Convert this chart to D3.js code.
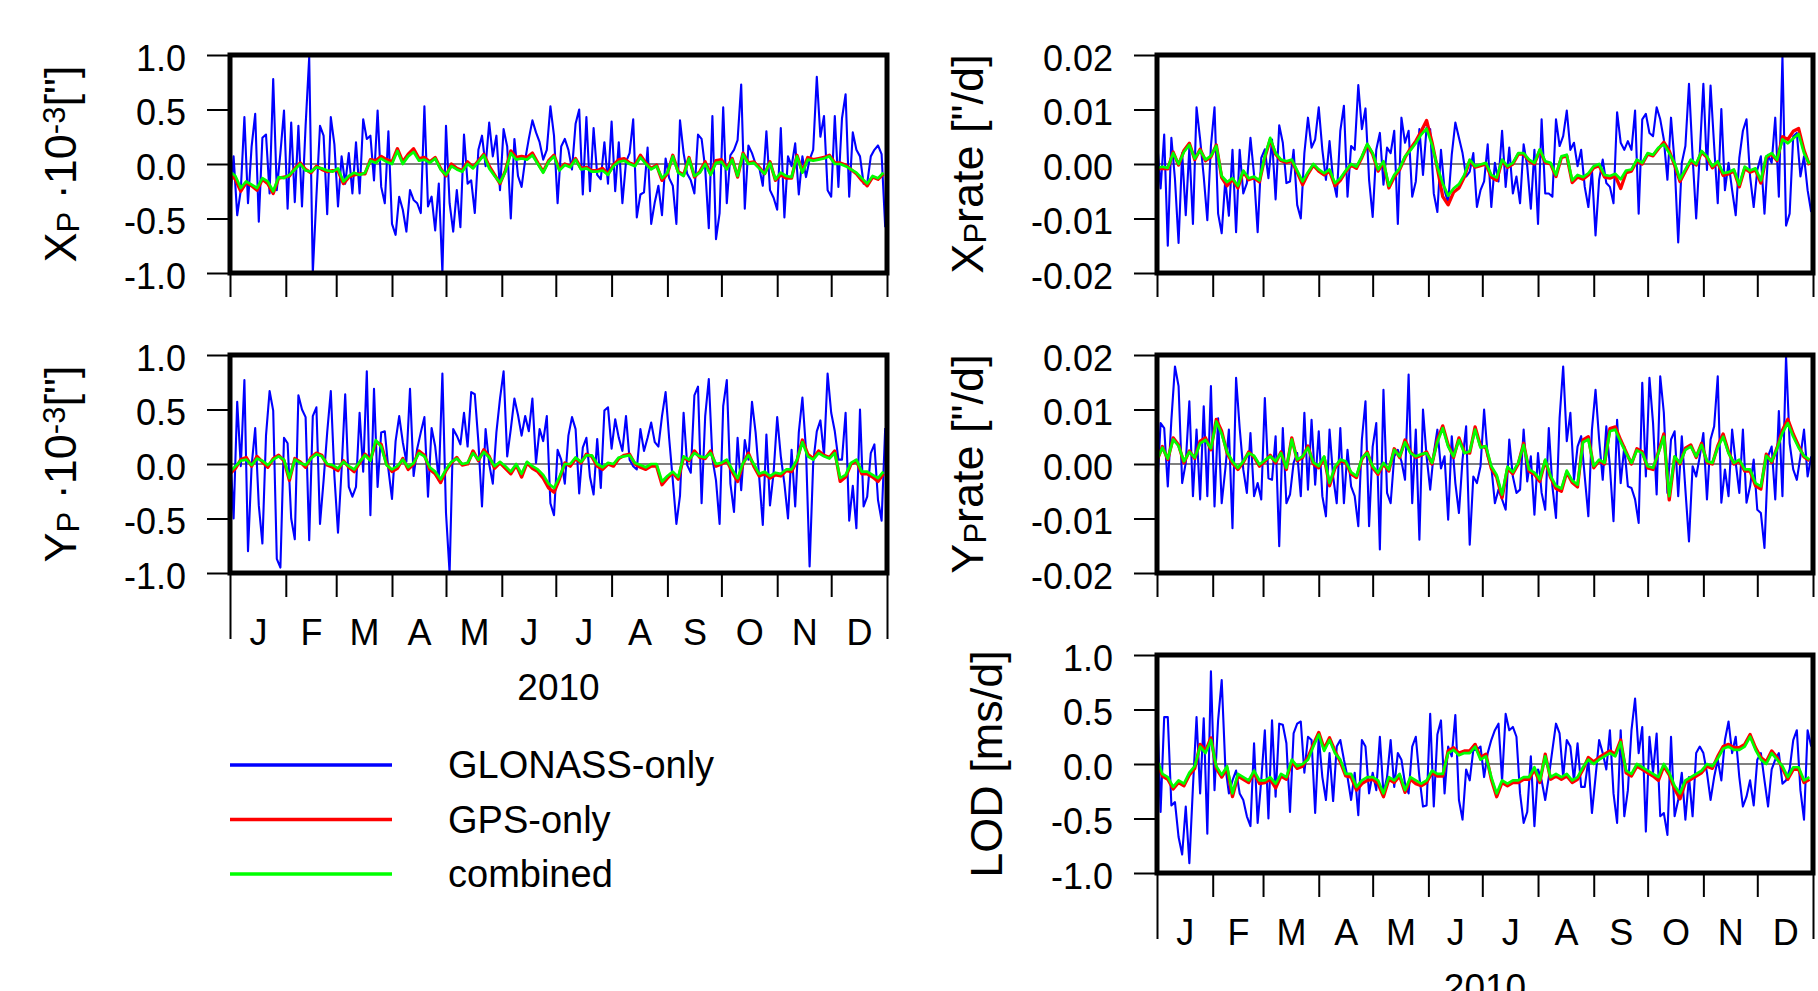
<!DOCTYPE html>
<html>
<head>
<meta charset="utf-8">
<script src="https://cdn.jsdelivr.net/npm/d3@7"></script>
<style>
  body { margin: 0; background: #fff; }
  svg { display: block; font-family: "Liberation Sans", Arial, Helvetica, sans-serif; }
  text { white-space: pre; }
</style>
</head>
<body>
<script>
// labels
const monthLabels = ["J", "F", "M", "A", "M", "J", "J", "A", "S", "O", "N", "D"];
const yearLabel = "2010";
const seriesNames = ["GLONASS-only", "GPS-only", "combined"];
const posTicks = [-100, -50, 0, 50, 100];            // units of 0.01 (x 1e-3 ")
const posTickLabels = ["-1.0", "-0.5", "0.0", "0.5", "1.0"];
const rateTicks = [-200, -100, 0, 100, 200];         // units of 0.0001 "/d
const rateTickLabels = ["-0.02", "-0.01", "0.00", "0.01", "0.02"];
const lodTicks = [-100, -50, 0, 50, 100];            // units of 0.01 ms/d
const lodTickLabels = ["-1.0", "-0.5", "0.0", "0.5", "1.0"];

// sampling in days: GLONASS-only every 2nd day, GPS-only / combined every 3rd day
const glonassStep = 2;
const gpsStep = 3;

// ---- X pole (0.01 e-3 ") ----
const xpGlonass = [
  -36,7,-47,-24,43,-36,16,46,-53,24,27,-27,78,-24,10,49,-41,38,-35,35,
  -39,35,98,-100,-30,35,26,-46,43,18,-39,7,-18,10,-27,20,-27,41,23,26,
  -15,49,-21,-36,30,-55,-65,-30,-42,-62,-24,-33,-36,-45,53,-39,-30,-61,-18,-100,
  35,-36,-62,-24,-58,27,-18,-15,-45,13,26,-2,38,7,26,-24,32,16,-50,23,
  -11,-21,4,23,40,29,20,4,13,53,26,-36,16,
  23,13,-5,37,50,-28,43,-25,33,-10,-14,20,-18,39,-25,20,-36,2,10,41,
  -49,-28,-26,15,-55,-35,-20,-47,5,-13,-20,-55,40,10,-9,-15,-27,27,23,-4,
  -59,44,-69,-45,52,-36,8,13,22,73,-41,17,10,0,-3,-20,30,-24,-31,-42,
  33,-49,7,-2,19,-28,7,-12,4,13,80,25,44,-24,-30,44,-21,42,64,-30,
  29,13,7,-18,-18,7,13,17,9,-58
];
const xpGps = [
  -9,-14,-25,-17,-20,-24,-14,-18,-27,-13,-12,-11,-4,1,-5,-8,-2,-5,-7,-6,
  -6,-18,-12,-10,-9,-9,4,3,7,4,2,14,2,9,14,5,6,2,6,-4,
  -11,0,-4,-6,2,-3,3,9,-2,-10,-18,-6,12,6,7,6,10,1,-7,3,
  8,-5,0,-2,5,-4,-3,-6,-6,-4,-9,-1,4,5,1,-1,8,1,-4,-1,
  -15,-9,8,-7,-10,6,-12,-7,2,-9,3,4,-4,5,-12,10,1,2,-3,-9,
  2,-15,-10,-13,-13,8,-7,6,4,5,6,8,1,1,-1,-5,-9,-15,-20,-12,
  -14,-9
];
const xpComb = [
  -7,-11,-22,-16,-19,-22,-13,-16,-25,-12,-13,-10,-5,0,-6,-7,-3,-4,-6,-7,
  -4,-16,-11,-8,-10,-8,3,1,5,2,0,12,0,7,11,3,4,1,5,-5,
  -10,-2,-5,-7,0,-4,2,8,-4,-11,-17,-7,10,4,5,4,8,0,-8,2,
  7,-6,-1,-3,4,-5,-4,-7,-7,-6,-10,-2,2,3,0,-2,6,0,-5,-2,
  -13,-8,7,-8,-11,5,-11,-8,0,-10,1,2,-5,4,-11,9,0,1,-4,-9,
  1,-14,-8,-11,-12,7,-8,4,3,4,5,7,0,0,-2,-5,-8,-13,-18,-11,
  -13,-8
];

// ---- X pole rate (0.0001 "/d) ----
const xrGlonass = [
  45,-45,54,-150,48,-28,-145,20,-94,30,-110,104,45,-23,-103,33,104,-91,-127,-29,
  -95,26,-125,26,-54,-35,48,-20,-125,11,27,-26,45,-65,71,39,-35,-32,26,-75,
  -100,20,85,30,45,104,26,-29,42,-29,-60,61,107,-60,33,26,145,64,102,-29,
  -97,26,57,-38,30,20,61,-110,85,39,61,-60,-32,64,-20,67,64,-54,-88,26,
  -48,-72,17,76,48,20,-23,-14,20,-79,-48,-32,36,
  -79,2,-32,61,-42,30,-54,-23,-72,36,-4,-82,26,-110,82,-54,-54,-60,82,33,
  51,98,26,39,-4,26,-42,-79,-11,-131,-29,8,-35,-42,-72,95,39,26,42,26,
  98,-91,82,92,57,51,104,82,45,-29,85,2,-144,2,33,147,14,-100,20,147,
  -11,144,33,-72,101,-48,2,-48,-94,11,61,82,-23,-79,-11,14,-91,17,2,85,
  -60,197,-113,-91,51,57,-23,14,-48,-88
];
const xrGps = [
  -9,-8,-9,22,-2,25,38,8,27,6,13,35,-25,-40,-28,-44,-14,-29,-25,-33,
  12,45,18,6,3,6,-15,-38,-18,-2,-13,-20,-13,-40,-30,-14,-2,-8,12,35,
  18,-13,3,-44,-24,-10,12,28,42,60,80,40,-8,-60,-75,-52,-44,-24,6,-6,
  -3,0,-24,-30,6,-6,0,18,18,6,0,25,3,0,-23,12,15,-34,-24,-28,
  -20,-7,-3,-24,-26,-22,-45,-16,-13,6,0,18,15,28,40,24,-2,-32,-13,6,
  -2,22,12,-7,3,-21,-18,-13,-42,-8,-15,-11,-35,12,18,6,50,45,60,65,
  25,-2
];
const xrComb = [
  -7,-5,-7,20,0,22,35,10,25,8,15,33,-22,-33,-26,-40,-12,-26,-23,-30,
  14,48,20,8,5,8,-12,-32,-15,0,-10,-17,-10,-35,-26,-12,0,-5,14,37,
  20,-10,5,-40,-20,-8,14,25,38,54,65,35,-5,-36,-58,-45,-37,-20,8,-4,
  -1,2,-20,-25,8,-4,2,20,20,8,2,27,5,2,-20,14,17,-30,-20,-24,
  -17,-4,0,-20,-22,-18,-28,-12,-10,8,2,20,17,30,36,20,2,-28,-10,8,
  0,24,14,-4,5,-17,-15,-10,-38,-5,-12,-8,-30,14,20,8,45,38,47,55,
  20,0
];

// ---- Y pole (0.01 e-3 ") ----
const ypGlonass = [
  16,-50,57,-2,77,-80,-2,33,-38,-73,26,67,49,-87,-95,24,19,-50,-69,63,
  50,43,-70,44,52,-55,-15,29,67,-11,-63,-5,64,-21,-30,-21,47,-7,85,-47,
  69,-21,29,30,-5,-32,21,44,20,2,69,-11,14,29,43,-30,33,16,-15,83,
  -45,-100,32,26,18,47,16,66,64,20,-39,32,0,-18,29,60,85,7,32,60,
  45,26,44,30,60,1,32,21,44,-36,-47,13,4,
  -18,26,43,32,-27,15,24,-12,-28,23,-22,49,52,14,41,24,12,44,4,-2,
  -5,32,12,24,38,20,16,44,66,23,-15,-55,-29,47,-1,-8,63,71,-36,44,
  78,5,-15,-55,53,77,-18,-44,24,-24,22,4,57,29,-12,-56,27,-38,-8,43,
  7,-18,-50,13,-39,29,61,13,-94,1,30,40,8,83,47,30,4,4,47,-52,
  -20,-59,50,-39,-30,10,18,-33,-52,33
];
const ypGps = [
  -9,-4,4,6,-2,7,2,-3,5,8,3,-15,5,2,-3,6,10,8,-1,-3,
  -6,3,-3,-7,1,9,4,20,18,0,-7,-4,5,-5,0,12,8,-5,-9,-17,
  -6,1,6,-1,0,12,3,13,7,-4,1,-4,-9,-1,-12,1,-4,-7,-13,-22,
  -26,-14,1,-2,5,1,9,7,-2,-5,0,-2,5,8,9,0,-3,-5,-2,-2,
  -19,-13,-8,-14,6,3,12,6,5,12,-2,0,3,-7,-16,0,10,-2,-11,-9,
  -13,-10,-11,-6,-7,3,22,9,5,12,8,6,12,-16,-12,0,3,-9,-9,-12,
  -16,-9
];
const ypComb = [
  -7,-2,3,4,-1,5,3,-1,4,7,4,-13,4,1,-1,5,9,7,0,-1,
  -4,2,-2,-5,2,8,3,22,16,-1,-5,-2,4,-3,1,10,7,-3,-7,-14,
  -5,2,5,0,1,10,4,11,6,-2,2,-2,-7,0,-9,2,-2,-5,-10,-18,
  -22,-12,0,0,6,2,8,8,0,-3,1,0,6,7,8,1,-1,-3,0,0,
  -16,-11,-7,-12,7,4,10,7,6,10,0,1,4,-5,-13,1,8,0,-9,-7,
  -11,-8,-9,-5,-5,4,20,7,4,10,7,5,10,-13,-10,1,4,-7,-7,-10,
  -13,-7
];

// ---- Y pole rate (0.0001 "/d) ----
const yrGlonass = [
  -53,75,66,-41,81,179,143,-35,2,115,-59,63,-65,106,-59,143,-78,84,-72,-10,
  63,-118,158,66,-10,-53,57,-59,-35,-65,121,-26,-29,51,-151,66,-72,-56,2,20,
  -59,94,-47,81,-38,60,-59,-96,63,-23,-72,66,-72,26,-41,-59,-114,45,115,-114,
  32,75,-157,136,-53,-72,14,26,5,-29,164,-72,63,-139,100,14,-47,20,63,-8,
  14,-102,51,-35,-90,8,69,-148,-23,-35,-4,100,14,-4,-72,-47,-65,-84,45,-23,
  -53,-47,63,-32,14,-93,20,-53,-84,66,-41,-99,84,179,42,94,-29,32,51,-23,
  -96,63,136,45,-29,69,-5,-105,81,-35,32,-41,-44,-65,-108,149,-23,158,75,-56,
  161,94,-53,45,60,-59,51,-47,-142,-4,-23,14,57,-65,45,69,161,-71,-10,-59,
  63,2,-53,63,-71,-41,8,-84,-90,-154,14,32,-65,97,-59,198,38,-10,-29,14,
  63,-23,14
];
const yrGps = [
  6,32,8,48,35,2,24,10,42,48,26,82,60,20,2,-10,3,22,13,-4,
  5,16,2,22,-10,48,6,12,33,0,-7,12,-40,-8,6,3,-18,-25,9,22,
  -7,-19,0,-13,28,12,44,22,12,16,22,0,44,70,35,12,48,22,20,68,
  33,30,-8,-24,-62,-8,-18,0,38,-13,-19,-32,6,-25,-45,-50,-15,-34,-42,44,
  50,-7,6,0,65,68,44,22,0,28,22,-7,-10,22,55,-66,12,0,29,35,
  12,38,3,0,33,55,22,0,6,-13,-13,-40,-46,18,3,30,62,82,55,33,
  13,6
];
const yrComb = [
  8,30,10,45,33,5,22,12,38,44,29,78,55,22,5,-7,5,20,15,-1,
  7,14,5,20,-7,45,8,14,30,3,-4,14,-35,-5,8,5,-15,-22,11,20,
  -4,-16,2,-10,26,14,40,20,14,18,20,2,40,66,32,14,44,20,23,63,
  30,33,-4,-20,-56,-5,-15,2,35,-10,-16,-28,8,-22,-40,-45,-12,-30,-38,40,
  45,-4,8,2,60,63,40,20,2,25,20,-4,-7,20,50,-59,14,2,26,32,
  14,35,5,2,30,50,20,2,8,-10,-10,-35,-41,15,5,28,57,75,50,30,
  15,8
];

// ---- LOD (0.01 ms/d) ----
const lodGlonass = [
  57,-44,43,43,-38,-35,-67,-83,-39,-91,-21,43,-27,42,-64,85,-24,40,77,-2,
  -27,-15,-6,-27,-33,-48,-57,19,-54,-15,31,-50,40,-30,37,36,19,-44,28,37,
  39,-8,25,22,-45,25,-12,-33,10,-34,16,22,4,-12,-33,-8,-47,22,16,-27,
  -8,-24,25,-27,-12,22,-21,10,4,-18,-27,16,25,-12,-39,-38,46,-39,27,40,
  -27,16,7,45,-33,-51,-5,-15,13,13,16,-12,10,22,31,37,-15,46,31,34,
  25,-27,-54,-44,7,-57,-5,-15,-33,-12,13,37,28,-12,22,16,-15,19,-21,-21,
  4,-45,-12,22,10,-5,31,-27,-54,31,-48,-24,31,60,10,34,-62,25,-8,28,
  -48,-45,-65,25,-48,-33,-8,-51,-12,-48,10,16,10,-8,-33,-12,4,-15,22,39,
  10,25,-12,-39,-30,-15,-38,4,10,-15,-39,-5,4,10,-18,-15,-5,22,31,-24,
  -51,31,16
];
const lodGps = [
  2,-11,-14,-23,-17,-20,-10,-4,18,12,24,-4,-12,-4,-30,-11,-14,-17,-8,-18,
  -17,-14,-22,-11,-14,2,-4,-2,6,18,29,14,24,12,2,-11,-12,-24,-18,-15,
  -14,-18,-30,-14,-17,-11,-26,-14,-18,-20,-17,-8,-11,-11,12,15,10,12,12,18,
  6,9,-14,-30,-17,-20,-17,-17,-14,-14,-5,-17,9,-14,-11,-14,-11,-17,-14,-5,
  6,2,6,9,12,9,22,-8,-11,-2,-5,-8,-11,-15,-2,-10,-23,-32,-17,-14,
  -11,-8,-2,-4,7,16,18,15,15,18,27,15,6,2,12,6,-4,-14,-5,-5,
  -17,-14
];
const lodComb = [
  4,-9,-12,-21,-15,-18,-8,-2,16,10,22,-2,-10,-2,-27,-9,-12,-15,-6,-15,
  -15,-12,-18,-9,-12,4,-2,0,4,16,27,12,22,10,4,-9,-9,-21,-15,-12,
  -12,-15,-27,-12,-15,-9,-24,-12,-15,-18,-15,-6,-9,-9,10,13,8,10,10,16,
  4,7,-12,-27,-15,-18,-15,-15,-12,-12,-3,-15,7,-12,-9,-12,-9,-15,-12,-3,
  4,0,4,7,10,7,20,-6,-9,0,-3,-6,-9,-12,0,-8,-20,-27,-15,-12,
  -9,-6,0,-2,5,14,16,13,13,16,25,13,4,0,10,4,-2,-12,-3,-3,
  -15,-12
];

// axis titles: [text, "sub" | "sup" | undefined]
const xpTitle = [["X"], ["P", "sub"], [" \u00b710"], ["-3", "sup"], ["[\"]"]];
const ypTitle = [["Y"], ["P", "sub"], [" \u00b710"], ["-3", "sup"], ["[\"]"]];
const xrTitle = [["X"], ["P", "sub"], ["rate [\"/d]"]];
const yrTitle = [["Y"], ["P", "sub"], ["rate [\"/d]"]];
const lodTitle = [["LOD [ms/d]"]];

// ---- layout ----
const width = 1818, height = 991;
const cols = [{ x: 230, w: 657 }, { x: 1157, w: 656 }];
const rows = [55, 355, 655];
const plotH = 218;
const colors = ["#0000ff", "#ff0000", "#00ff00"];
const lineWidths = [2.1, 3.3, 2.7];

const startDay = new Date(2010, 0, 1);
const endDay = new Date(2011, 0, 1);
const monthStarts = d3.timeMonth.range(startDay, d3.timeDay.offset(endDay, 1));
const midMonths = monthStarts.slice(0, -1).map((m, i) => new Date((+m + +monthStarts[i + 1]) / 2));

const panels = [
  { col: 0, row: 0, series: [xpGlonass, xpGps, xpComb], domain: [-100, 100], ticks: posTicks, labels: posTickLabels, title: xpTitle, titleX: 76, months: false },
  { col: 1, row: 0, series: [xrGlonass, xrGps, xrComb], domain: [-200, 200], ticks: rateTicks, labels: rateTickLabels, title: xrTitle, titleX: 983, months: false },
  { col: 0, row: 1, series: [ypGlonass, ypGps, ypComb], domain: [-100, 100], ticks: posTicks, labels: posTickLabels, title: ypTitle, titleX: 76, months: true },
  { col: 1, row: 1, series: [yrGlonass, yrGps, yrComb], domain: [-200, 200], ticks: rateTicks, labels: rateTickLabels, title: yrTitle, titleX: 983, months: false },
  { col: 1, row: 2, series: [lodGlonass, lodGps, lodComb], domain: [-100, 100], ticks: lodTicks, labels: lodTickLabels, title: lodTitle, titleX: 1002, months: true }
];
const steps = [glonassStep, gpsStep, gpsStep];

const svg = d3.select("body").append("svg")
  .attr("width", width)
  .attr("height", height);

svg.append("rect").attr("width", width).attr("height", height).attr("fill", "#fff");

panels.forEach((p, k) => {
  const left = cols[p.col].x, w = cols[p.col].w, top = rows[p.row];
  const xScale = d3.scaleTime().domain([startDay, endDay]).range([left, left + w]);
  const yScale = d3.scaleLinear().domain(p.domain).range([top + plotH, top]);

  svg.append("clipPath").attr("id", "clip" + k)
    .append("rect")
      .attr("x", left).attr("y", top)
      .attr("width", w).attr("height", plotH);

  const g = svg.append("g").attr("clip-path", `url(#clip${k})`);

  // zero line
  g.append("line")
    .attr("x1", left).attr("x2", left + w)
    .attr("y1", yScale(0)).attr("y2", yScale(0))
    .attr("stroke", "#808080")
    .attr("stroke-width", 2);

  // GLONASS, GPS, combined
  p.series.forEach((vals, s) => {
    const line = d3.line()
      .x((d, i) => xScale(d3.timeDay.offset(startDay, i * steps[s])))
      .y(d => yScale(d));
    g.append("path")
      .datum(vals)
      .attr("fill", "none")
      .attr("stroke", colors[s])
      .attr("stroke-width", lineWidths[s])
      .attr("stroke-linejoin", "round")
      .attr("d", line);
  });

  // frame
  svg.append("rect")
    .attr("x", left).attr("y", top)
    .attr("width", w).attr("height", plotH)
    .attr("fill", "none")
    .attr("stroke", "#000")
    .attr("stroke-width", 5);

  // y axis
  const ya = svg.append("g")
    .attr("transform", `translate(${left},0)`)
    .call(d3.axisLeft(yScale).tickValues(p.ticks).tickSize(23).tickPadding(21)
      .tickFormat((d, i) => p.labels[i]));
  ya.select(".domain").remove();
  ya.attr("font-size", 36).attr("font-family", null);
  ya.selectAll(".tick line").attr("stroke-width", 2);
  ya.selectAll(".tick text").attr("dy", "0.43em").attr("fill", "#000");

  // x ticks at month boundaries
  const xa = svg.append("g")
    .attr("transform", `translate(0,${top + plotH})`)
    .call(d3.axisBottom(xScale).tickValues(monthStarts).tickSize(24).tickFormat(""));
  xa.select(".domain").remove();
  xa.selectAll(".tick line").attr("stroke-width", 2);

  if (p.months) {
    xa.selectAll(".tick line")
      .filter((d, i, n) => i === 0 || i === n.length - 1)
      .attr("y2", 66);

    const ma = svg.append("g")
      .attr("transform", `translate(0,${top + plotH})`)
      .call(d3.axisBottom(xScale).tickValues(midMonths).tickSize(0).tickPadding(46)
        .tickFormat((d, i) => monthLabels[i]));
    ma.select(".domain").remove();
    ma.attr("font-size", 36).attr("font-family", null);
    ma.selectAll(".tick text").attr("fill", "#000");

    svg.append("text")
      .attr("x", left + w / 2)
      .attr("y", top + plotH + 127)
      .attr("text-anchor", "middle")
      .attr("font-size", 37)
      .text(yearLabel);
  }

  // rotated axis title
  const t = svg.append("text")
    .attr("transform", `translate(${p.titleX},${top + plotH / 2}) rotate(-90)`)
    .attr("text-anchor", "middle")
    .attr("font-size", 45);
  let shift = 0;
  p.title.forEach(([str, kind]) => {
    const target = kind === "sub" ? 3 : kind === "sup" ? -11 : 0;
    t.append("tspan")
      .attr("dy", target - shift)
      .attr("font-size", kind ? 31 : null)
      .text(str);
    shift = target;
  });
});

// legend
const legendTop = 765, legendGap = 54.5;
seriesNames.forEach((name, i) => {
  const ly = legendTop + i * legendGap;
  svg.append("line")
    .attr("x1", 230).attr("x2", 392)
    .attr("y1", ly).attr("y2", ly)
    .attr("stroke", colors[i])
    .attr("stroke-width", 3.5);
  svg.append("text")
    .attr("x", 448)
    .attr("y", ly + 13)
    .attr("font-size", 38)
    .text(name);
});
</script>
</body>
</html>
